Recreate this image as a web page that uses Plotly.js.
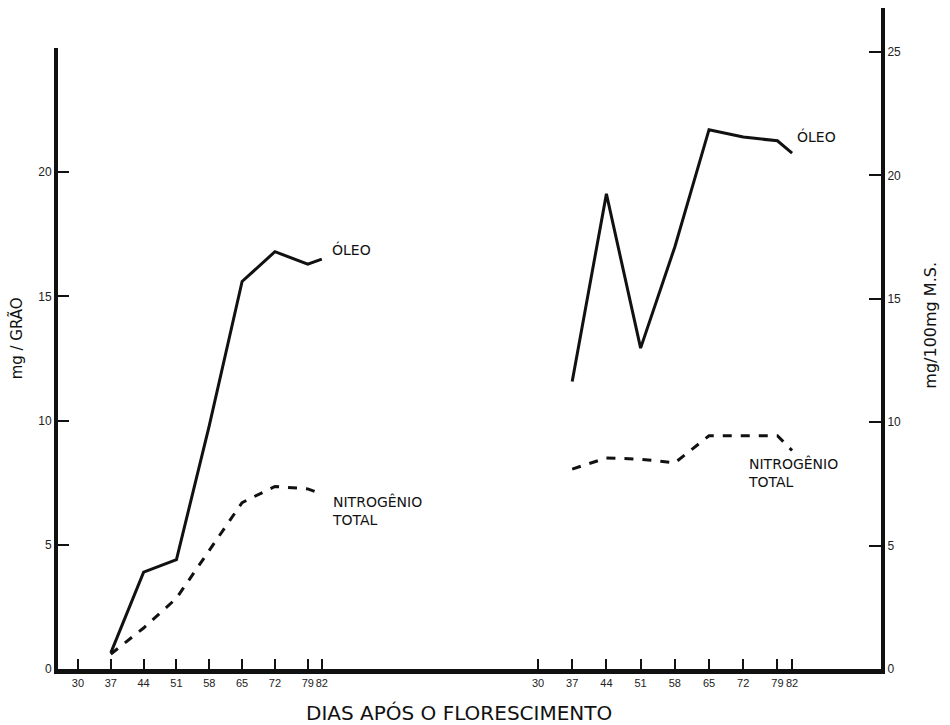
<!DOCTYPE html>
<html>
<head>
<meta charset="utf-8">
<script src="https://cdn.plot.ly/plotly-3.0.1.min.js"></script>
<style>html,body{margin:0;padding:0;background:#fff;}#chart{width:950px;height:725px;}</style>
</head>
<body>
<div id="chart"></div>
<script>
// Days after flowering (both panels)
const days = [37, 44, 51, 58, 65, 72, 79, 82];
const dayTicks = [30, 37, 44, 51, 58, 65, 72, 79, 82];

// Left panel: mg / grão
const oleoGrao = [0.65, 3.9, 4.4, 9.8, 15.6, 16.8, 16.3, 16.5];
const nitroGrao = [0.6, 1.65, 2.85, 4.8, 6.7, 7.35, 7.25, 7.05];

// Right panel: mg / 100 mg M.S.
const oleoMS = [11.65, 19.25, 13.0, 17.1, 21.85, 21.55, 21.4, 20.9];
const nitroMS = [8.1, 8.55, 8.5, 8.35, 9.45, 9.45, 9.45, 8.85];

const leftYTicks = [0, 5, 10, 15, 20];
const rightYTicks = [0, 5, 10, 15, 20, 25];

const FONT = "DejaVu Sans, Liberation Sans, sans-serif";
const solid = {color: "#111", width: 3, dash: "solid"};
const dashed = {color: "#111", width: 3, dash: "dash"};

const traces = [
  {x: days, y: oleoGrao, xaxis: "x", yaxis: "y", mode: "lines", line: solid, name: "Óleo"},
  {x: days, y: nitroGrao, xaxis: "x", yaxis: "y", mode: "lines", line: dashed, name: "Nitrogênio total"},
  {x: days, y: oleoMS, xaxis: "x2", yaxis: "y2", mode: "lines", line: solid, name: "Óleo"},
  {x: days, y: nitroMS, xaxis: "x2", yaxis: "y2", mode: "lines", line: dashed, name: "Nitrogênio total"}
];

const tickFont = {family: "Liberation Sans, sans-serif", size: 12, color: "#222"};
const xTickFont = {family: "Liberation Sans, sans-serif", size: 11, color: "#222"};
const xCommon = {
  tickmode: "array", tickvals: dayTicks, ticktext: dayTicks.map(String),
  tickangle: 0,
  ticks: "inside", ticklen: 10, tickwidth: 2, tickcolor: "#111",
  showline: true, linecolor: "#111", linewidth: 5,
  showgrid: false, zeroline: false, tickfont: xTickFont, fixedrange: true
};

const layout = {
  width: 950, height: 725,
  margin: {l: 58, r: 69, t: 8, b: 56},
  paper_bgcolor: "#fff", plot_bgcolor: "#fff",
  showlegend: false, hovermode: false,
  xaxis: Object.assign({}, xCommon, {domain: [0, 0.5006], range: [25.74, 113.6], anchor: "y"}),
  xaxis2: Object.assign({}, xCommon, {domain: [0.5006, 1], range: [16.08, 100.2], anchor: "y2"}),
  yaxis: {
    domain: [0, 0.9395], range: [0, 25], anchor: "x", side: "left",
    tickmode: "array", tickvals: leftYTicks, ticktext: leftYTicks.map(String),
    ticks: "inside", ticklen: 11, tickwidth: 2, tickcolor: "#111",
    showline: true, linecolor: "#111", linewidth: 4,
    showgrid: false, zeroline: false, tickfont: tickFont, fixedrange: true
  },
  yaxis2: {
    domain: [0, 1], range: [0, 26.78], anchor: "x2", side: "right",
    tickmode: "array", tickvals: rightYTicks, ticktext: rightYTicks.map(String),
    ticks: "inside", ticklen: 12, tickwidth: 2, tickcolor: "#111",
    showline: true, linecolor: "#111", linewidth: 4,
    showgrid: false, zeroline: false, tickfont: tickFont, fixedrange: true
  },
  annotations: [
    {xref: "x", yref: "y", x: 83.7, y: 16.87, text: "ÓLEO", showarrow: false,
     xanchor: "left", yanchor: "middle", font: {family: FONT, size: 14, color: "#111"}},
    {xref: "x", yref: "y", x: 83.7, y: 6.4, text: "NITROGÊNIO<br>TOTAL", showarrow: false, align: "left",
     xanchor: "left", yanchor: "middle", font: {family: FONT, size: 14, color: "#111"}},
    {xref: "x2", yref: "y2", x: 82.6, y: 21.56, text: "ÓLEO", showarrow: false,
     xanchor: "left", yanchor: "middle", font: {family: FONT, size: 14, color: "#111"}},
    {xref: "x2", yref: "y2", x: 72.58, y: 7.98, text: "NITROGÊNIO<br>TOTAL", showarrow: false, align: "left",
     xanchor: "left", yanchor: "middle", font: {family: FONT, size: 14, color: "#111"}},
    {xref: "paper", yref: "paper", x: -0.05, y: 0.5, xanchor: "center", yanchor: "middle",
     text: "mg / GRÃO", textangle: -90, showarrow: false,
     font: {family: FONT, size: 15, color: "#111"}},
    {xref: "paper", yref: "paper", x: 1.06, y: 0.52, xanchor: "center", yanchor: "middle",
     text: "mg/100mg M.S.", textangle: -90, showarrow: false,
     font: {family: FONT, size: 16, color: "#111"}},
    {xref: "paper", yref: "paper", x: 0.487, y: -0.066, xanchor: "center", yanchor: "middle",
     text: "DIAS APÓS O FLORESCIMENTO", showarrow: false,
     font: {family: FONT, size: 20, color: "#111"}}
  ]
};

Plotly.newPlot("chart", traces, layout, {displayModeBar: false, staticPlot: true});
</script>
</body>
</html>
